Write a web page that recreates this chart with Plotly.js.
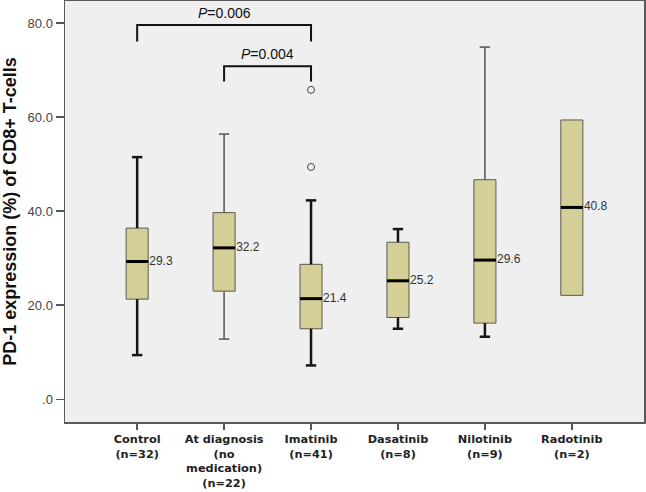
<!DOCTYPE html>
<html>
<head>
<meta charset="utf-8">
<script src="https://cdn.plot.ly/plotly-3.0.1.min.js"></script>
<style>
  html, body { margin: 0; padding: 0; background: #ffffff; }
  #chart { width: 646px; height: 492px; }
</style>
</head>
<body>
<div id="chart"></div>
<script>
// ---- data ----
const groups = ['Control', 'At diagnosis<br>(no<br>medication)', 'Imatinib', 'Dasatinib', 'Nilotinib', 'Radotinib'];
const groupN = [32, 22, 41, 8, 9, 2];
const q1 = [21.3, 23.0, 15.0, 17.4, 16.2, 22.1];
const median = [29.3, 32.2, 21.4, 25.2, 29.6, 40.8];
const q3 = [36.4, 39.7, 28.7, 33.4, 46.7, 59.4];
const lowerWhisker = [9.4, 12.8, 7.2, 15.0, 13.3, 22.1];
const upperWhisker = [51.5, 56.4, 42.3, 36.2, 74.9, 59.4];
const outlierGroup = [2, 2];
const outlierValue = [49.4, 65.8];
const comparisons = [
  { from: 0, to: 2, label: '<i>P</i>=0.006' },
  { from: 1, to: 2, label: '<i>P</i>=0.004' }
];

// ---- styles ----
const boxWidth = 0.254;
const capHalf = 0.06;
const upperBold = [true, false, true, true, false, false];
const lowerBold = [true, false, true, true, true, false];
const bracketLevels = [{ top: 79.6, foot: 76.1, text: 82.1 }, { top: 70.8, foot: 67.6, text: 73.4 }];
const FONT = 'Liberation Sans, Arial, sans-serif';

const idx = groups.map((g, i) => i);

// whisker segments
const thick = { x: [], y: [] }, thin = { x: [], y: [] };
function addWhisker(target, i, from, to) {
  target.x.push(i, i, null, i - capHalf, i + capHalf, null);
  target.y.push(from, to, null, to, to, null);
}
idx.forEach(i => {
  if (upperWhisker[i] > q3[i]) addWhisker(upperBold[i] ? thick : thin, i, q3[i], upperWhisker[i]);
  if (lowerWhisker[i] < q1[i]) addWhisker(lowerBold[i] ? thick : thin, i, q1[i], lowerWhisker[i]);
});

const medX = [], medY = [];
idx.forEach(i => { medX.push(i - boxWidth / 2, i + boxWidth / 2, null); medY.push(median[i], median[i], null); });

const traces = [
  {
    type: 'scatter', mode: 'lines', x: thin.x, y: thin.y,
    line: { color: '#555555', width: 1.5 }, hoverinfo: 'skip', showlegend: false
  },
  {
    type: 'scatter', mode: 'lines', x: thick.x, y: thick.y,
    line: { color: '#151515', width: 2.5 }, hoverinfo: 'skip', showlegend: false
  },
  {
    type: 'box', x: idx, q1: q1, median: median, q3: q3,
    lowerfence: q1, upperfence: q3, width: boxWidth, whiskerwidth: 0,
    fillcolor: '#D4CF97', line: { color: '#5a5a50', width: 1 },
    boxpoints: false, hoverinfo: 'skip', showlegend: false
  },
  {
    type: 'scatter', mode: 'lines', x: medX, y: medY,
    line: { color: '#000000', width: 3 }, hoverinfo: 'skip', showlegend: false
  },
  {
    type: 'scatter', mode: 'text', x: idx.map(i => i + boxWidth / 2 + 0.012), y: median,
    text: median.map(v => v.toFixed(1)), textposition: 'middle right',
    textfont: { family: FONT, size: 12, color: '#333333' }, hoverinfo: 'skip', showlegend: false
  },
  {
    type: 'scatter', mode: 'markers', x: outlierGroup, y: outlierValue,
    marker: { symbol: 'circle-open', size: 7, color: '#444444', line: { width: 1 } },
    hoverinfo: 'skip', showlegend: false
  }
];

const shapes = [], annotations = [];
comparisons.forEach((c, k) => {
  const L = bracketLevels[k];
  shapes.push({
    type: 'path', xref: 'x', yref: 'y',
    path: `M ${c.from},${L.foot} L ${c.from},${L.top} L ${c.to},${L.top} L ${c.to},${L.foot}`,
    line: { color: '#111111', width: 2 }
  });
  annotations.push({
    x: (c.from + c.to) / 2, y: L.text, xref: 'x', yref: 'y', text: c.label,
    showarrow: false, font: { family: FONT, size: 14, color: '#111111' }
  });
});

const layout = {
  width: 646, height: 492,
  margin: { l: 65, r: 2, t: 1, b: 70 },
  paper_bgcolor: '#ffffff', plot_bgcolor: '#EFEFEF',
  showlegend: false,
  xaxis: {
    range: [-0.83, 5.83], tickvals: idx,
    ticktext: idx.map(i => groups[i] + '<br>(n=' + groupN[i] + ')'),
    ticks: 'outside', ticklen: 6, tickcolor: '#555555', tickwidth: 1.5,
    showgrid: false, zeroline: false, showline: true, mirror: true,
    linecolor: '#5a5a5a', linewidth: 1.5,
    tickfont: { family: 'DejaVu Sans, sans-serif', size: 11.3, color: '#222222', weight: 'bold' }
  },
  yaxis: {
    range: [-4.83, 84.7], tickvals: [0, 20, 40, 60, 80],
    ticktext: ['.0', '20.0', '40.0', '60.0', '80.0'],
    ticks: 'outside', ticklen: 8, tickcolor: '#555555', tickwidth: 1.5,
    showgrid: false, zeroline: false, showline: true, mirror: true,
    linecolor: '#5a5a5a', linewidth: 1.5,
    tickfont: { family: FONT, size: 13, color: '#444444' },
    title: { text: 'PD-1 expression (%) of CD8+ T-cells', standoff: 6,
             font: { family: FONT, size: 18, color: '#111111', weight: 'bold' } }
  },
  shapes: shapes,
  annotations: annotations
};

Plotly.newPlot('chart', traces, layout, { staticPlot: true, displayModeBar: false });
</script>
</body>
</html>
